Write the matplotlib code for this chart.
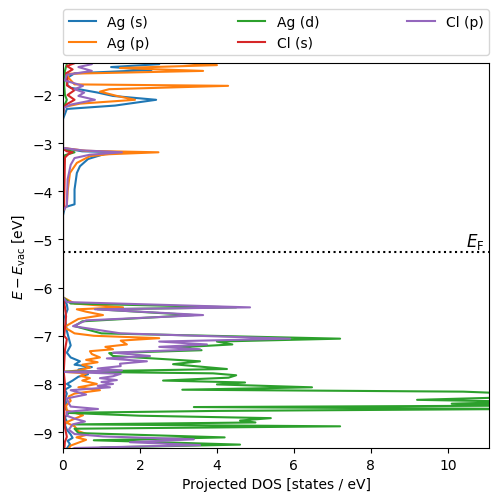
"""Projected DOS of AgCl (energy vs. vacuum level)."""
import matplotlib

matplotlib.use("Agg")
import matplotlib.pyplot as plt  # noqa: E402

# --- data (energy in eV, DOS in states/eV) ---
AG_S_E = [-1.25, -1.36, -1.42, -1.48, -1.55, -1.65, -1.80, -1.85, -1.95, -2.02, -2.10,
          -2.22, -2.29, -2.5, -3.10, -3.17, -3.19, -3.22, -3.33, -3.48, -3.62, -3.96,
          -4.27, -4.33, -4.5, -6.2, -6.35, -6.45, -6.6, -6.9, -7.05, -7.2, -7.35, -7.45,
          -7.53, -7.60, -7.65, -7.70, -7.76, -7.80, -7.85, -7.93, -8.00, -8.05, -8.12,
          -8.20, -8.30, -8.40, -8.50, -8.60, -8.70, -8.78, -8.85, -8.95, -9.05, -9.12,
          -9.18, -9.25, -9.40]
AG_S_DOS = [1.0, 2.5, 1.25, 2.3, 0.3, 0.1, 0.12, 0.2, 0.9, 1.3, 2.42,
            1.35, 0.1, 0.0, 0.0, 0.5, 1.6, 1.1, 0.65, 0.44, 0.36, 0.30,
            0.30, 0.05, 0.0, 0.0, 0.1, 0.12, 0.05, 0.1, 0.15, 0.2, 0.1, 0.2,
            0.44, 0.3, 0.75, 0.4, 0.62, 0.65, 0.4, 0.25, 0.1, 0.2, 0.05,
            0.1, 0.06, 0.08, 0.05, 0.15, 0.05, 0.1, 0.05, 0.1, 0.2, 0.25,
            0.12, 0.18, 0.05]

AG_P_E = [-1.25, -1.33, -1.38, -1.44, -1.50, -1.56, -1.65, -1.78, -1.81, -1.88, -1.93,
          -2.02, -2.10, -2.18, -2.25, -2.4, -3.10, -3.16, -3.19, -3.23, -3.27, -3.41,
          -3.62, -4.0, -4.3, -4.4, -6.2, -6.33, -6.41, -6.45, -6.50, -6.57, -6.65, -6.82,
          -6.95, -7.00, -7.05, -7.10, -7.18, -7.23, -7.28, -7.32, -7.38, -7.45, -7.50,
          -7.55, -7.60, -7.66, -7.72, -7.75, -7.78, -7.83, -7.88, -7.93, -8.00, -8.07,
          -8.13, -8.20, -8.26, -8.35, -8.45, -8.55, -8.65, -8.74, -8.80, -8.88, -8.98,
          -9.05, -9.11, -9.16, -9.22, -9.28, -9.40]
AG_P_DOS = [1.5, 3.0, 4.0, 1.48, 3.64, 0.1, 0.15, 0.3, 4.29, 1.2, 0.96,
            1.4, 1.87, 0.44, 0.02, 0.0, 0.0, 0.6, 2.48, 1.2, 0.7, 0.36,
            0.18, 0.12, 0.1, 0.0, 0.0, 0.3, 1.56, 0.36, 0.6, 1.04, 0.4, 0.03,
            0.3, 0.8, 2.5, 1.5, 1.66, 1.1, 1.3, 0.7, 0.75, 0.96, 0.6,
            0.9, 0.5, 0.7, 0.4, 0.03, 0.62, 0.45, 0.7, 0.5, 0.88, 0.4,
            0.96, 0.3, 0.15, 0.2, 0.08, 0.1, 0.52, 0.25, 0.08, 0.3, 0.4,
            0.65, 0.35, 0.6, 0.4, 0.2, 0.1]

AG_D_E = [-1.25, -1.35, -1.5, -1.8, -2.0, -2.1, -2.25, -2.4, -3.12, -3.19, -3.25, -3.5,
          -4.3, -4.4, -6.2, -6.33, -6.41, -6.45, -6.57, -6.70, -6.80, -6.95, -7.06,
          -7.12, -7.18, -7.24, -7.30, -7.36, -7.42, -7.53, -7.59, -7.69, -7.745, -7.78,
          -7.82, -7.87, -7.93, -7.97, -8.01, -8.07, -8.12, -8.16, -8.21, -8.28, -8.33,
          -8.37, -8.41, -8.45, -8.48, -8.52, -8.56, -8.60, -8.66, -8.71, -8.76, -8.80,
          -8.84, -8.88, -8.93, -9.02, -9.11, -9.17, -9.26, -9.32, -9.40]
AG_D_DOS = [0.05, 0.1, 0.05, 0.03, 0.05, 0.1, 0.02, 0.0, 0.0, 0.3, 0.05, 0.02,
            0.01, 0.0, 0.0, 0.2, 4.5, 0.9, 3.4, 0.5, 0.3, 1.0, 7.2,
            4.0, 4.4, 3.0, 3.6, 1.2, 1.3, 3.56, 2.86, 4.26, 0.05, 3.9,
            4.5, 4.3, 2.6, 4.73, 4.0, 6.47, 3.1, 10.4, 12.0, 11.5, 9.2,
            12.0, 10.1, 12.0, 3.4, 12.0, 4.0, 0.1, 2.0, 5.4, 4.6, 5.0,
            0.3, 7.2, 0.3, 0.4, 4.2, 0.8, 4.6, 1.0, 0.5]

CL_S_E = [-1.25, -1.34, -1.40, -1.47, -1.55, -1.70, -1.80, -1.90, -2.00, -2.10, -2.20,
          -2.28, -2.4, -3.12, -3.17, -3.19, -3.22, -3.3, -4.3, -4.4, -6.2, -6.4, -6.6,
          -7.0, -7.07, -7.3, -7.75, -8.0, -8.5, -8.9, -9.1, -9.2, -9.4]
CL_S_DOS = [0.1, 0.3, 0.1, 0.25, 0.08, 0.12, 0.1, 0.3, 0.12, 0.3, 0.08,
            0.02, 0.0, 0.0, 0.1, 0.25, 0.15, 0.05, 0.03, 0.0, 0.0, 0.05, 0.08,
            0.03, 0.1, 0.05, 0.02, 0.05, 0.03, 0.05, 0.1, 0.05, 0.03]

CL_P_E = [-1.25, -1.36, -1.42, -1.50, -1.58, -1.70, -1.81, -1.88, -1.95, -2.02, -2.10,
          -2.20, -2.27, -2.4, -3.10, -3.15, -3.19, -3.24, -3.31, -3.45, -3.75, -4.3,
          -4.4, -6.2, -6.30, -6.41, -6.45, -6.57, -6.68, -6.80, -6.95, -7.06, -7.12,
          -7.18, -7.23, -7.28, -7.35, -7.42, -7.47, -7.53, -7.58, -7.63, -7.68, -7.72,
          -7.75, -7.79, -7.84, -7.88, -7.92, -7.96, -8.00, -8.04, -8.07, -8.13, -8.22,
          -8.30, -8.40, -8.47, -8.52, -8.58, -8.66, -8.72, -8.78, -8.84, -8.95, -9.04,
          -9.09, -9.15, -9.21, -9.27, -9.33, -9.40]
CL_P_DOS = [0.6, 0.75, 0.4, 0.75, 0.1, 0.05, 0.52, 0.3, 0.55, 0.4, 0.83,
            0.2, 0.02, 0.0, 0.0, 0.5, 1.53, 0.7, 0.3, 0.2, 0.12, 0.1,
            0.0, 0.0, 0.1, 4.86, 0.83, 3.64, 0.6, 0.26, 1.5, 5.9, 2.5,
            3.74, 2.5, 3.56, 1.3, 2.26, 1.14, 2.18, 1.48, 1.5, 0.9, 1.53,
            0.03, 1.5, 1.3, 0.96, 1.4, 1.0, 1.3, 0.9, 1.22, 0.2, 0.6,
            0.1, 0.15, 0.2, 0.91, 0.1, 0.1, 0.3, 0.57, 0.25, 0.15, 0.3,
            1.04, 3.4, 1.74, 3.56, 0.3, 0.1]

E_FERMI = -5.27

fig = plt.figure(figsize=(4.98, 5.02), dpi=100)
ax = fig.add_axes([0.1265, 0.1056, 0.8555, 0.767])

ax.plot(AG_S_DOS, AG_S_E, color="C0", label="Ag (s)")
ax.plot(AG_P_DOS, AG_P_E, color="C1", label="Ag (p)")
ax.plot(AG_D_DOS, AG_D_E, color="C2", label="Ag (d)")
ax.plot(CL_S_DOS, CL_S_E, color="C3", label="Cl (s)")
ax.plot(CL_P_DOS, CL_P_E, color="C4", label="Cl (p)")

ax.axhline(E_FERMI, color="k", ls=":")
ax.text(10.95, E_FERMI + 0.03, r"$E_{\mathrm{F}}$", ha="right", va="bottom", fontsize=12)

ax.set_xlim(0, 11.07)
ax.set_ylim(-9.33, -1.335)
ax.set_xlabel("Projected DOS [states / eV]")
ax.set_ylabel(r"$E - E_{\mathrm{vac}}$ [eV]")
ax.legend(loc="lower left", bbox_to_anchor=(0, 1.02, 1, 0.102), ncol=3,
          mode="expand", borderaxespad=0.0)

fig.savefig("out.png", dpi=100)
